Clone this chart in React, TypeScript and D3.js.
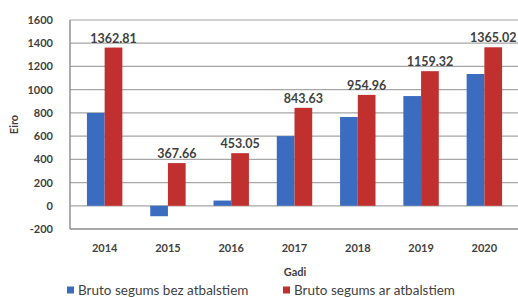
import React, { useRef, useEffect } from 'react';
import * as d3 from 'd3';

const years = ['2014', '2015', '2016', '2017', '2018', '2019', '2020'];
const withoutSupport = [800, -90, 45, 600, 765, 945, 1135];
const withSupport = [1362.81, 367.66, 453.05, 843.63, 954.96, 1159.32, 1365.02];
const yTicks = [-200, 0, 200, 400, 600, 800, 1000, 1200, 1400, 1600];
const seriesNames = ['Bruto segums bez atbalstiem', 'Bruto segums ar atbalstiem'];
const colors = ['#3b6cc0', '#c0302e'];

const W = 518;
const H = 297;

const App = () => {
  const svgRef = useRef<SVGSVGElement>(null);

  useEffect(() => {
    const svg = d3.select(svgRef.current);
    svg.selectAll('*').remove();

    const margin = { top: 20, right: 2, bottom: 68, left: 70 };
    const font = 'Lato, "Open Sans", sans-serif';
    const textColor = '#3f3f3f';

    const y = d3.scaleLinear()
      .domain([-200, 1600])
      .range([H - margin.bottom, margin.top]);

    const x = d3.scaleBand()
      .domain(years)
      .range([margin.left + 3, W - margin.right])
      .paddingInner(0.44)
      .paddingOuter(0.22);

    const xSub = d3.scaleBand()
      .domain(['0', '1'])
      .range([0, x.bandwidth()]);

    // gridlines
    svg.append('g')
      .selectAll('line')
      .data(yTicks)
      .enter().append('line')
      .attr('x1', margin.left)
      .attr('x2', W)
      .attr('y1', d => y(d))
      .attr('y2', d => y(d))
      .attr('stroke', d => (d === -200 ? '#8a8a8a' : '#a6a6a6'))
      .attr('stroke-width', d => (d === -200 ? 1.6 : 1.2));

    // y axis line
    svg.append('line')
      .attr('x1', margin.left)
      .attr('x2', margin.left)
      .attr('y1', y(1600))
      .attr('y2', y(-200))
      .attr('stroke', '#8a8a8a')
      .attr('stroke-width', 1.4);

    const yAxis = svg.append('g')
      .attr('transform', `translate(${margin.left - 17},0)`)
      .call(d3.axisLeft(y).tickValues(yTicks).tickFormat(d3.format('d')).tickSize(0).tickPadding(0));
    yAxis.select('.domain').remove();
    yAxis.selectAll('text')
      .attr('font-family', font)
      .attr('font-size', 11)
      .attr('font-weight', 'bold')
      .attr('fill', textColor)
      .text(d => String(d));

    const xAxis = svg.append('g')
      .attr('transform', `translate(0,${y(-200)})`)
      .call(d3.axisBottom(x).tickSize(0).tickPadding(15));
    xAxis.select('.domain').remove();
    xAxis.selectAll('text')
      .attr('font-family', font)
      .attr('font-size', 11)
      .attr('font-weight', 'bold')
      .attr('fill', textColor);

    const series = [withoutSupport, withSupport];
    series.forEach((vals, si) => {
      svg.append('g')
        .selectAll('rect')
        .data(vals)
        .enter().append('rect')
        .attr('x', (d, i) => (x(years[i]) ?? 0) + (xSub(String(si)) ?? 0))
        .attr('y', d => y(Math.max(0, d)))
        .attr('width', xSub.bandwidth())
        .attr('height', d => Math.abs(y(d) - y(0)))
        .attr('fill', colors[si]);
    });

    // data labels above red bars
    svg.append('g')
      .selectAll('text')
      .data(withSupport)
      .enter().append('text')
      .attr('x', (d, i) => (x(years[i]) ?? 0) + (xSub('1') ?? 0) + xSub.bandwidth() / 2)
      .attr('y', d => y(d) - 5)
      .attr('text-anchor', 'middle')
      .attr('font-family', font)
      .attr('font-size', 12.5)
      .attr('font-weight', 'bold')
      .attr('fill', textColor)
      .text(d => d.toFixed(2));

    // axis titles
    svg.append('text')
      .attr('transform', `translate(18,${(y(600) + y(800)) / 2}) rotate(-90)`)
      .attr('text-anchor', 'middle')
      .attr('font-family', font)
      .attr('font-size', 11)
      .attr('font-weight', 'bold')
      .attr('fill', textColor)
      .text('Eiro');

    svg.append('text')
      .attr('x', 295)
      .attr('y', 276)
      .attr('text-anchor', 'middle')
      .attr('font-family', font)
      .attr('font-size', 11)
      .attr('font-weight', 'bold')
      .attr('fill', textColor)
      .text('Gadi');

    // legend
    const legendX = [67, 283];
    seriesNames.forEach((name, i) => {
      const g = svg.append('g').attr('transform', `translate(${legendX[i]},${290})`);
      g.append('rect')
        .attr('x', 0)
        .attr('y', -3.5)
        .attr('width', 7)
        .attr('height', 7)
        .attr('fill', colors[i]);
      g.append('text')
        .attr('x', 11)
        .attr('y', 0)
        .attr('dy', '0.35em')
        .attr('font-family', font)
        .attr('font-size', 13.5)
        .attr('fill', textColor)
        .text(name);
    });
  }, []);

  return (
    <svg
      ref={svgRef}
      width={W}
      height={H}
      style={{ position: 'absolute', left: 0, top: 0, background: '#fff' }}
    />
  );
};

export default App;
